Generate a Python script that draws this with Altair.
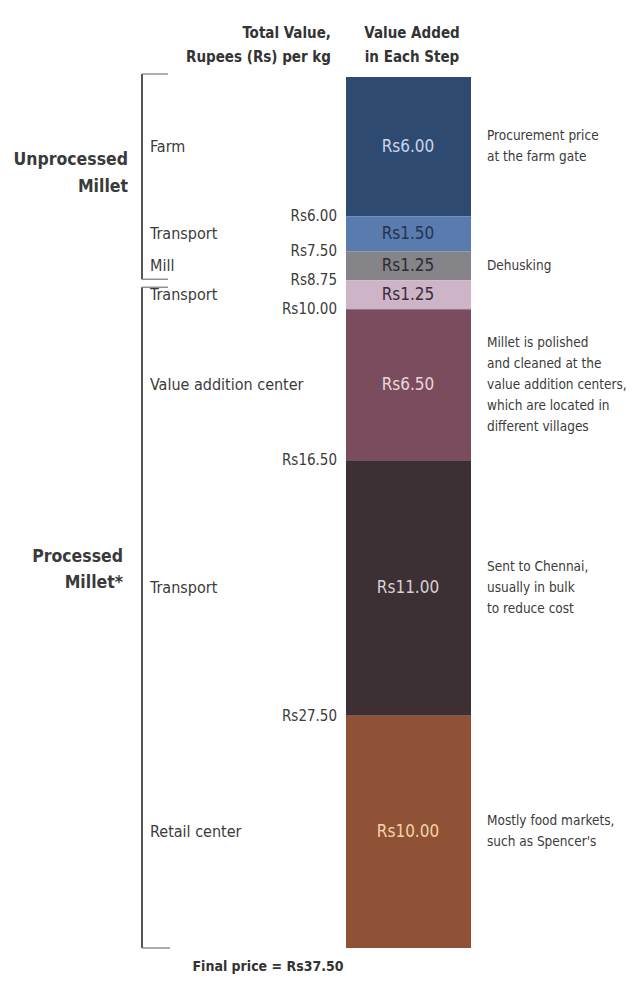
import altair as alt
import pandas as pd

# ---------------- data ----------------
step_ids = ["farm", "transport1", "mill", "transport2", "vac", "transport3", "retail"]
step_names = ["Farm", "Transport", "Mill", "Transport", "Value addition center", "Transport", "Retail center"]
added = [6.00, 1.50, 1.25, 1.25, 6.50, 11.00, 10.00]
notes = [
    ["Procurement price", "at the farm gate"],
    [],
    ["Dehusking"],
    [],
    ["Millet is polished", "and cleaned at the", "value addition centers,", "which are located in", "different villages"],
    ["Sent to Chennai,", "usually in bulk", "to reduce cost"],
    ["Mostly food markets,", "such as Spencer's"],
]
group_names = ["Unprocessed\nMillet", "Processed\nMillet*"]
group_start = [0.0, 8.75]
group_end = [8.75, 37.50]
final_price = 37.50

# ---------------- styles ----------------
seg_colors = ["#2f4a71", "#5a7bad", "#858489", "#cdb4c7", "#7b4c5e", "#3c3034", "#8f5236"]
val_text_colors = ["#c9d6ec", "#27314d", "#2c2c32", "#3a2d38", "#ecd5dc", "#d9cfd2", "#f3d4a6"]
FONT = "Liberation Sans Narrow, DejaVu Sans Condensed, Roboto Condensed, Arial Narrow, DejaVu Sans, sans-serif"
TXT = "#3b3b3b"
H = 871
PX_PER_UNIT = H / final_price
NOTE_LH = 21

# ---------------- derived tables ----------------
rows, note_rows = [], []
cum = 0.0
for i, sid in enumerate(step_ids):
    start = cum
    cum += added[i]
    mid = (start + cum) / 2
    rows.append({
        "id": sid, "name": step_names[i], "start": start, "end": cum, "mid": mid,
        "value_label": f"Rs{added[i]:.2f}", "cum_label": f"Rs{cum:.2f}",
    })
    n = len(notes[i])
    for k, line in enumerate(notes[i]):
        note_rows.append({"id": sid, "line": line, "mid": mid, "k": k, "n": n})
df = pd.DataFrame(rows)
df_cum = df.iloc[:-1]
df_notes = pd.DataFrame(note_rows)
df_groups = pd.DataFrame({"name": group_names, "start": group_start, "end": group_end})

yscale = alt.Scale(domain=[0, final_price], reverse=True, nice=False, zero=False)
Y = lambda f: alt.Y(f, type="quantitative", scale=yscale, axis=None)
color_scale = alt.Scale(domain=step_ids, range=seg_colors)
tcolor_scale = alt.Scale(domain=step_ids, range=val_text_colors)

base = alt.Chart(df)

bars = base.mark_rect().encode(
    x=alt.value(346), x2=alt.value(471),
    y=Y("start"), y2="end",
    color=alt.Color("id:N", scale=color_scale, legend=None),
)

val_text = base.mark_text(font=FONT, fontSize=17, align="center", baseline="middle").encode(
    x=alt.value(408), y=Y("mid"), text="value_label:N",
    color=alt.Color("id:N", scale=tcolor_scale, legend=None),
)

step_text = base.mark_text(font=FONT, fontSize=16, align="left", baseline="middle", color=TXT).encode(
    x=alt.value(150), y=Y("mid"), text="name:N",
)

note_text = alt.Chart(df_notes).transform_calculate(
    ypos=f"datum.mid + (datum.k - (datum.n - 1) / 2) * {NOTE_LH / PX_PER_UNIT}"
).mark_text(font=FONT, fontSize=13.5, align="left", baseline="middle", color=TXT).encode(
    x=alt.value(487), y=Y("ypos"), text="line:N",
)

cum_text = alt.Chart(df_cum).mark_text(font=FONT, fontSize=15, align="right", baseline="middle", color=TXT).encode(
    x=alt.value(337), y=Y("end"), text="cum_label:N",
)

# brackets
BR = "#555"
br_v1 = alt.Chart(df_groups.iloc[[0]]).mark_rule(color=BR, strokeWidth=2, yOffset=-3, y2Offset=-1).encode(
    x=alt.value(142), y=Y("start"), y2="end")
br_v2 = alt.Chart(df_groups.iloc[[1]]).mark_rule(color=BR, strokeWidth=2, yOffset=7, y2Offset=0).encode(
    x=alt.value(142), y=Y("start"), y2="end")
br_t1 = alt.Chart(df_groups.iloc[[0]]).mark_rule(color="#777", strokeWidth=1.2, yOffset=-3).encode(
    x=alt.value(142), x2=alt.value(168), y=Y("start"))
br_b1 = alt.Chart(df_groups.iloc[[0]]).mark_rule(color="#777", strokeWidth=1.2, yOffset=-1).encode(
    x=alt.value(142), x2=alt.value(168), y=Y("end"))
br_t2 = alt.Chart(df_groups.iloc[[1]]).mark_rule(color="#777", strokeWidth=1.2, yOffset=7).encode(
    x=alt.value(142), x2=alt.value(168), y=Y("start"))
br_b2 = alt.Chart(df_groups.iloc[[1]]).mark_rule(color="#777", strokeWidth=1.2).encode(
    x=alt.value(142), x2=alt.value(170), y=Y("end"))

g1 = alt.Chart(df_groups.iloc[[0]]).mark_text(font=FONT, fontSize=17.5, fontWeight="bold", align="right",
                                              baseline="middle", color="#3a3a3a", lineBreak="\n", lineHeight=27).encode(
    x=alt.value(128), y=alt.value(160 - 77), text="name:N")
g2 = alt.Chart(df_groups.iloc[[1]]).mark_text(font=FONT, fontSize=17.5, fontWeight="bold", align="right",
                                              baseline="middle", color="#3a3a3a", lineBreak="\n", lineHeight=26).encode(
    x=alt.value(123), y=alt.value(557 - 77), text="name:N")

hdr_df = pd.DataFrame({"a": ["Total Value,\nRupees (Rs) per kg"], "b": ["Value Added\nin Each Step"],
                       "c": [f"Final price = Rs{final_price:.2f}"]})
hdr1 = alt.Chart(hdr_df).mark_text(font=FONT, fontSize=15, fontWeight="bold", align="right", baseline="middle",
                                   color="#333", lineBreak="\n", lineHeight=24).encode(
    x=alt.value(331), y=alt.value(33 - 77), text="a:N")
hdr2 = alt.Chart(hdr_df).mark_text(font=FONT, fontSize=15, fontWeight="bold", align="center", baseline="middle",
                                   color="#333", lineBreak="\n", lineHeight=24).encode(
    x=alt.value(412), y=alt.value(33 - 77), text="b:N")
final = alt.Chart(hdr_df).mark_text(font=FONT, fontSize=14, fontWeight="bold", align="center", baseline="middle",
                                    color="#333").encode(
    x=alt.value(268), y=alt.value(967 - 77), text="c:N")

chart = alt.layer(
    bars, val_text, step_text, note_text, cum_text,
    br_v1, br_v2, br_t1, br_b1, br_t2, br_b2, g1, g2, hdr1, hdr2, final,
).resolve_scale(color="independent").properties(
    width=640, height=H,
    padding={"left": 0, "top": 77, "right": 0, "bottom": 37},
    autosize=alt.AutoSizeParams(type="none"),
    background="white",
).configure_view(stroke=None)

chart.save("out.html", embed_options={"renderer": "svg", "actions": False})
